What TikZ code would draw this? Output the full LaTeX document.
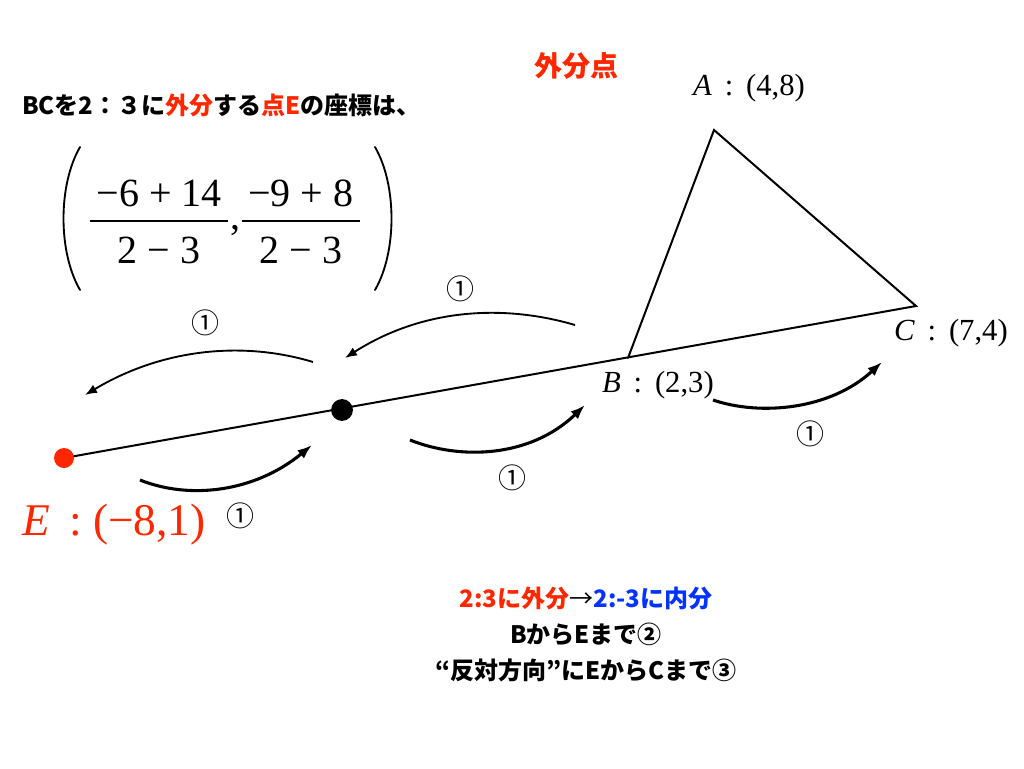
\documentclass[tikz,border=0pt]{standalone}
\usepackage{fontspec}
\newfontfamily\jp{Noto Sans CJK JP}
\newfontfamily\tms{Liberation Serif}
\usetikzlibrary{arrows.meta}
\definecolor{ExRed}{RGB}{255,38,0}
\definecolor{InBlue}{RGB}{4,51,255}
\tikzset{Side Line/.style = {line width = 1.5pt, line cap = round}}
\tikzset{Move Below/.style = {line width = 2.3pt, -{Latex[length = 11pt, width = 8pt]}}}
\tikzset{Move Above/.style = {line width = 1.4pt, -{Latex[length = 9pt, width = 7pt]}}}
\tikzset{Pt Label/.style = {font = \tms\fontsize{23pt}{27pt}\selectfont, inner sep = 0pt}}
\tikzset{Step Mark/.style = {font = \jp\fontsize{21pt}{24pt}\selectfont, inner sep = 0pt}}
\tikzset{Jp Text/.style = {font = \jp\bfseries\fontsize{18pt}{27pt}\selectfont, inner sep = 0pt}}
\tikzset{Big Paren/.style = {line width = 1.4pt, line cap = round}}
\newcommand{\numpart}[1]{\mbox{\tms\,#1\,}}
\newcommand{\denpart}[1]{\mbox{\tms\rule{0pt}{0.9em}#1}}
\newcommand{\bigfrac}[2]{{\numpart{#1}\above 1.5pt\denpart{#2}}}

\begin{document}
\begin{tikzpicture}[x = 0.75pt, y = -0.75pt]
  \useasboundingbox (0, 0) rectangle (1024, 768);
  \coordinate (E) at (64, 458);
  \coordinate (D) at (342, 410);
  \coordinate (B) at (628, 358);
  \coordinate (C) at (916, 306);
  \coordinate (A) at (714, 130);

  % triangle and the extended side
  \draw[Side Line] (E) -- (C) -- (A) -- (B);
  \fill[ExRed] (E) circle [radius = 7.5pt];
  \fill (D) circle [radius = 8.2pt];

  \node[Pt Label] (A lbl) at (749, 88) {\textit{A}\,\ :\ \,(4,8)};
  \node[Pt Label] (B lbl) at (658, 385) {\textit{B}\,\ :\ \,(2,3)};
  \node[Pt Label] (C lbl) at (951, 333) {\textit{C}\,\ :\ \,(7,4)};
  \node[Pt Label, text = ExRed, font = \tms\fontsize{34pt}{40pt}\selectfont]
    (E lbl) at (114, 525) {\textit{E}\,\ :\ (−8,1)};

  % moves along the line
  \coordinate (M1) at (140, 480);
  \coordinate (M2) at (312, 445);
  \coordinate (M3) at (410, 440);
  \coordinate (M4) at (585, 405);
  \coordinate (M5) at (713, 400);
  \coordinate (M6) at (882, 362);
  \draw[Move Below] (M1) .. controls (190, 500) and (255, 492) .. (M2);
  \draw[Move Below] (M3) .. controls (460, 460) and (530, 458) .. (M4);
  \draw[Move Below] (M5) .. controls (760, 416) and (830, 410) .. (M6);

  \coordinate (N1) at (575, 325);
  \coordinate (N2) at (345, 358);
  \coordinate (N3) at (313, 362);
  \coordinate (N4) at (85, 395);
  \draw[Move Above] (N1) .. controls (500, 303) and (420, 310) .. (N2);
  \draw[Move Above] (N3) .. controls (240, 340) and (160, 350) .. (N4);

  \node[Step Mark] (S1) at (205, 323) {①};
  \node[Step Mark] (S2) at (460, 289) {①};
  \node[Step Mark] (S3) at (240, 516) {①};
  \node[Step Mark] (S4) at (512, 478) {①};
  \node[Step Mark] (S5) at (810, 434) {①};

  % texts
  \node[Jp Text, text = ExRed, font = \jp\bfseries\fontsize{21pt}{24pt}\selectfont]
    (Title) at (576, 66) {外分点};
  \node[Jp Text, anchor = west] (Intro) at (22, 105)
    {BCを2：３に\textcolor{ExRed}{外分}する\textcolor{ExRed}{点E}の座標は、};

  % coordinates of E as two fractions in tall brackets
  \node[inner sep = 0pt, anchor = base] (Ecoord) at (225, 229)
    {\fontsize{30pt}{36pt}\selectfont$\displaystyle
    \bigfrac{−6 + 14}{2 − 3}\mbox{\tms ,}\bigfrac{−9 + 8}{2 − 3}$};
  \draw[Big Paren] (80, 147) .. controls (58, 185) and (58, 252) .. (80, 290);
  \draw[Big Paren] (375, 147) .. controls (397, 185) and (397, 252) .. (375, 290);

  \node[Jp Text, align = center] (Note) at (586, 634)
    {\textcolor{ExRed}{2:3に外分}{\mdseries →}\textcolor{InBlue}{2:-3に内分}\\
     BからEまで②\\
     “反対方向”にEからCまで③};
\end{tikzpicture}
\end{document}
